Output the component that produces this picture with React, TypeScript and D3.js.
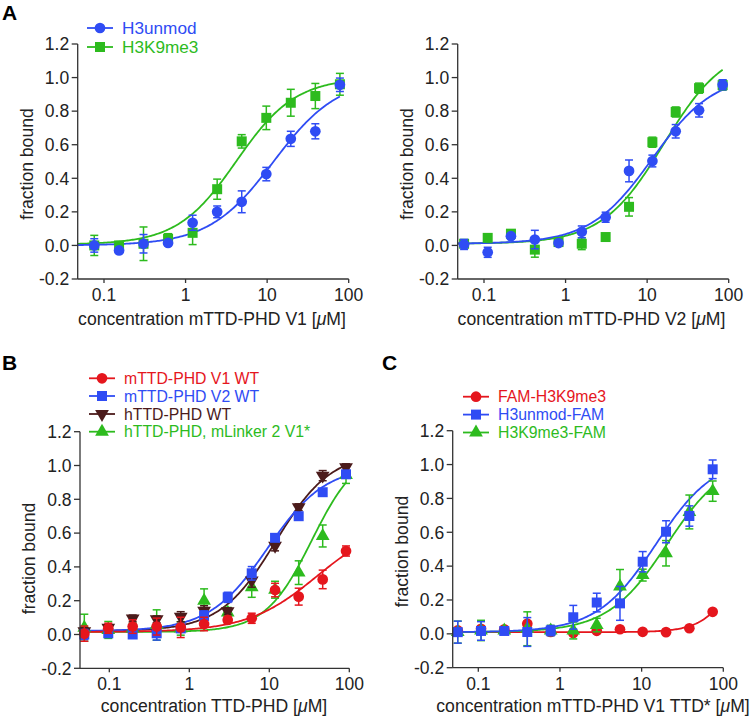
import React from "react";
import * as d3 from "d3";

// ---------- shared axis data ----------
const yTickValues = [-0.2, 0, 0.2, 0.4, 0.6, 0.8, 1.0, 1.2];
const yTickLabels = ["-0.2", "0.0", "0.2", "0.4", "0.6", "0.8", "1.0", "1.2"];
const xTickValues = [0.1, 1, 10, 100];
const xTickLabels = ["0.1", "1", "10", "100"];

// ---------- Panel A left: mTTD-PHD V1 ----------
const a1X = [0.076, 0.153, 0.305, 0.61, 1.22, 2.44, 4.88, 9.77, 19.5, 39, 78];
const a1UnmodY = [0.0, -0.03, 0.01, 0.015, 0.135, 0.2, 0.26, 0.425, 0.635, 0.68, 0.957];
const a1UnmodErr = [0.04, 0.01, 0.055, 0.015, 0.045, 0.035, 0.065, 0.04, 0.045, 0.045, 0.04];
const a1Me3Y = [0.0, 0.0, 0.01, 0.04, 0.075, 0.335, 0.62, 0.76, 0.85, 0.89, 0.96];
const a1Me3Err = [0.06, 0.015, 0.1, 0.03, 0.07, 0.06, 0.04, 0.07, 0.08, 0.075, 0.065];
// fit parameters: bottom, top, Kd, Hill
const a1UnmodFit = [0, 1, 12, 1.1];
const a1Me3Fit = [0.005, 1, 4.2, 1.2];

// ---------- Panel A right: mTTD-PHD V2 ----------
const a2X = [0.057, 0.111, 0.214, 0.42, 0.82, 1.58, 3.1, 6.0, 11.6, 22.4, 43.3, 84.3];
const a2UnmodY = [0.006, -0.041, 0.055, 0.035, 0.014, 0.081, 0.168, 0.444, 0.503, 0.68, 0.805, 0.957];
const a2UnmodErr = [0.03, 0.03, 0.015, 0.055, 0.01, 0.035, 0.03, 0.065, 0.035, 0.04, 0.04, 0.03];
const a2Me3Y = [0.01, 0.045, 0.07, -0.025, 0.02, 0.01, 0.05, 0.23, 0.615, 0.795, 0.937, 0.955];
const a2Me3Err = [0.02, 0.015, 0.015, 0.045, 0.015, 0.035, 0.015, 0.055, 0.03, 0.03, 0.03, 0.03];
const a2UnmodFit = [0.01, 1.02, 11.5, 1.15];
const a2Me3Fit = [0.01, 1.2, 16, 1.15];

// ---------- Panel B ----------
const bX = [0.0487, 0.0971, 0.196, 0.391, 0.781, 1.53, 3.02, 6.03, 11.8, 23.3, 46.5, 91];
const bV1Y = [0.005, 0.037, 0.047, 0.047, 0.042, 0.062, 0.086, 0.096, 0.263, 0.224, 0.326, 0.494];
const bV1Err = [0.045, 0.03, 0.04, 0.05, 0.06, 0.04, 0.02, 0.03, 0.04, 0.05, 0.055, 0.03];
const bV2Y = [0.0, 0.007, 0.0, 0.007, 0.036, 0.11, 0.22, 0.362, 0.572, 0.7, 0.842, 0.948];
const bV2Err = [0.03, 0.01, 0.015, 0.04, 0.02, 0.03, 0.03, 0.04, 0.02, 0.02, 0.02, 0.02];
const bHumY = [0.02, 0.04, 0.095, 0.09, 0.105, 0.14, 0.138, 0.32, 0.525, 0.753, 0.94, 0.99];
const bHumErr = [0.02, 0.02, 0.02, 0.02, 0.03, 0.03, 0.02, 0.04, 0.03, 0.02, 0.03, 0.02];
const bLinkY = [0.04, 0.027, 0.036, 0.056, 0.036, 0.2, 0.13, 0.28, 0.265, 0.366, 0.583, 0.944];
const bLinkErr = [0.08, 0.05, 0.03, 0.09, 0.04, 0.07, 0.03, 0.06, 0.05, 0.07, 0.065, 0.05];
const bV1Fit = [0.015, 0.68, 40, 1.0];
const bV2Fit = [0.02, 1.0, 9.5, 1.2];
const bHumFit = [0.02, 1.08, 12, 1.25];
const bLinkFit = [0.015, 1.1, 34, 1.5];

// ---------- Panel C ----------
const cX = [0.056, 0.108, 0.208, 0.398, 0.77, 1.455, 2.82, 5.43, 10.3, 19.9, 38.4, 74.1];
const cFamMe3Y = [0.02, 0.03, 0.027, 0.06, 0.011, 0.005, 0.018, 0.027, 0.012, 0.01, 0.033, 0.13];
const cFamMe3Err = [0.01, 0.01, 0.01, 0.015, 0.01, 0.01, 0.01, 0.01, 0.005, 0.005, 0.005, 0.005];
const cUnmodY = [0.01, 0.017, 0.017, 0.011, 0.019, 0.098, 0.185, 0.18, 0.426, 0.603, 0.696, 0.972];
const cUnmodErr = [0.065, 0.055, 0.015, 0.085, 0.03, 0.07, 0.055, 0.1, 0.06, 0.065, 0.06, 0.055];
const cMe3FamY = [0.01, 0.02, 0.02, 0.03, 0.02, 0.02, 0.052, 0.28, 0.347, 0.476, 0.72, 0.843];
const cMe3FamErr = [0.065, 0.06, 0.015, 0.1, 0.03, 0.05, 0.04, 0.1, 0.035, 0.075, 0.1, 0.06];
const cFamMe3Fit = [0.01, 1, 200, 2];
const cUnmodFit = [0.01, 1.05, 15, 1.2];
const cMe3FamFit = [0.01, 1.05, 20.5, 1.2];

const BLUE = "#2f4cf4";
const GREEN = "#2dbb1e";
const RED = "#e5161d";
const BROWN = "#4b1b1b";
const AXIS = "#333333";
const FONT = "'Liberation Sans', Arial, Helvetica, sans-serif";

type Series = {
  name: string;
  color: string;
  shape: string;
  x: number[];
  y: number[];
  err: number[];
  fit: number[];
  legendOrder: number;
};

type PanelCfg = {
  x0: number;
  x01: number;
  x100: number;
  yTop: number;
  yBot: number;
  xTitle: string;
  xTitleX: number;
  xTitleY: number;
  tickLabelY: number;
  yTitleX: number;
  yTitleY: number;
  series: Series[];
  legend?: { x: number; ys: number[]; fontSize: number };
};

function hill(p: number[], x: number) {
  const [b, t, k, n] = p;
  const xn = Math.pow(x, n);
  return b + ((t - b) * xn) / (Math.pow(k, n) + xn);
}

function symbolPath(shape: string) {
  if (shape === "circle") return d3.symbol().type(d3.symbolCircle).size(90)()!;
  if (shape === "square") return d3.symbol().type(d3.symbolSquare).size(100)()!;
  return d3.symbol().type(d3.symbolTriangle).size(82)()!;
}

function Marker({ shape, color, cx, cy }: { shape: string; color: string; cx: number; cy: number }) {
  const rot = shape === "triDown" ? 180 : 0;
  return (
    <path
      d={symbolPath(shape)}
      fill={color}
      transform={`translate(${cx},${cy}) rotate(${rot})`}
    />
  );
}

function Panel({ cfg }: { cfg: PanelCfg }) {
  const xs = d3.scaleLog().domain([0.1, 100]).range([cfg.x01, cfg.x100]);
  const ys = d3.scaleLinear().domain([-0.2, 1.2]).range([cfg.yBot, cfg.yTop]);
  const xMin = xs.invert(cfg.x0);

  const line = d3
    .line<[number, number]>()
    .x((d) => xs(d[0]))
    .y((d) => ys(d[1]));

  const legendSeries = cfg.series.slice().sort((a, b) => a.legendOrder - b.legendOrder);

  return (
    <g fontFamily={FONT}>
      {/* fitted curves */}
      {cfg.series.map((s) => {
        const xMax = d3.max(s.x)!;
        const pts: [number, number][] = d3.range(0, 201).map((i) => {
          const lx = Math.log10(xMin) + ((Math.log10(xMax) - Math.log10(xMin)) * i) / 200;
          const xv = Math.pow(10, lx);
          return [xv, hill(s.fit, xv)];
        });
        return (
          <path key={"c" + s.name} d={line(pts)!} fill="none" stroke={s.color} strokeWidth={1.8} />
        );
      })}
      {/* error bars + markers */}
      {cfg.series.map((s) => (
        <g key={"m" + s.name}>
          {s.x.map((xv, i) => {
            const cx = xs(xv);
            const y1 = ys(s.y[i] + s.err[i]);
            const y2 = ys(s.y[i] - s.err[i]);
            return (
              <g key={i} stroke={s.color} strokeWidth={1.5}>
                <line x1={cx} x2={cx} y1={y1} y2={y2} />
                <line x1={cx - 4} x2={cx + 4} y1={y1} y2={y1} />
                <line x1={cx - 4} x2={cx + 4} y1={y2} y2={y2} />
              </g>
            );
          })}
          {s.x.map((xv, i) => (
            <Marker key={"p" + i} shape={s.shape} color={s.color} cx={xs(xv)} cy={ys(s.y[i])} />
          ))}
        </g>
      ))}
      {/* axes */}
      <line x1={cfg.x0} x2={cfg.x0} y1={cfg.yTop} y2={cfg.yBot} stroke={AXIS} strokeWidth={1.3} />
      <line x1={cfg.x0} x2={cfg.x100} y1={cfg.yBot} y2={cfg.yBot} stroke={AXIS} strokeWidth={1.3} />
      {yTickValues.map((v, i) => (
        <g key={"yt" + i}>
          <line x1={cfg.x0 - 6} x2={cfg.x0} y1={ys(v)} y2={ys(v)} stroke={AXIS} strokeWidth={1.3} />
          <text x={cfg.x0 - 8.5} y={ys(v)} dy="0.36em" textAnchor="end" fontSize={17.5} fill="#222">
            {yTickLabels[i]}
          </text>
        </g>
      ))}
      {xTickValues.map((v, i) => (
        <g key={"xt" + i}>
          <line x1={xs(v)} x2={xs(v)} y1={cfg.yBot} y2={cfg.yBot + 4} stroke={AXIS} strokeWidth={1.3} />
          <text x={xs(v)} y={cfg.tickLabelY} textAnchor="middle" fontSize={17.5} fill="#222">
            {xTickLabels[i]}
          </text>
        </g>
      ))}
      <text x={cfg.xTitleX} y={cfg.xTitleY} textAnchor="middle" fontSize={17.6} fill="#222">
        {cfg.xTitle}{" "}[<tspan fontStyle="italic">μ</tspan>M]
      </text>
      <text
        transform={`translate(${cfg.yTitleX},${cfg.yTitleY}) rotate(-90)`}
        textAnchor="middle"
        fontSize={17.6}
        fill="#222"
      >
        fraction bound
      </text>
      {/* legend */}
      {cfg.legend &&
        legendSeries.map((s, i) => {
          const ly = cfg.legend!.ys[i];
          const lx = cfg.legend!.x;
          const fs = cfg.legend!.fontSize;
          return (
            <g key={"lg" + s.name}>
              <line x1={lx} x2={lx + 26} y1={ly} y2={ly} stroke={s.color} strokeWidth={1.8} />
              <Marker shape={s.shape} color={s.color} cx={lx + 13} cy={ly} />
              <text x={lx + 35} y={ly + fs * 0.355} fontSize={fs} fill={s.color}>
                {s.name}
              </text>
            </g>
          );
        })}
    </g>
  );
}

function mk(
  name: string,
  color: string,
  shape: string,
  x: number[],
  y: number[],
  err: number[],
  fit: number[],
  legendOrder: number
): Series {
  return { name, color, shape, x, y, err, fit, legendOrder };
}

export default function App() {
  const panels: PanelCfg[] = [
    {
      x0: 77.7, x01: 104, x100: 348.7, yTop: 44, yBot: 279,
      xTitle: "concentration mTTD-PHD V1", xTitleX: 212, xTitleY: 325, tickLabelY: 301,
      yTitleX: 33, yTitleY: 164,
      series: [
        mk("H3K9me3", GREEN, "square", a1X, a1Me3Y, a1Me3Err, a1Me3Fit, 1),
        mk("H3unmod", BLUE, "circle", a1X, a1UnmodY, a1UnmodErr, a1UnmodFit, 0),
      ],
      legend: { x: 87, ys: [28, 47], fontSize: 17.2 },
    },
    {
      x0: 457.7, x01: 484, x100: 728.7, yTop: 44, yBot: 279,
      xTitle: "concentration mTTD-PHD V2", xTitleX: 591.5, xTitleY: 325, tickLabelY: 301,
      yTitleX: 413, yTitleY: 164,
      series: [
        mk("H3K9me3", GREEN, "square", a2X, a2Me3Y, a2Me3Err, a2Me3Fit, 1),
        mk("H3unmod", BLUE, "circle", a2X, a2UnmodY, a2UnmodErr, a2UnmodFit, 0),
      ],
    },
    {
      x0: 80, x01: 109.3, x100: 349.3, yTop: 431.7, yBot: 668.3,
      xTitle: "concentration TTD-PHD", xTitleX: 214, xTitleY: 711.7, tickLabelY: 690,
      yTitleX: 35, yTitleY: 558.5,
      series: [
        mk("hTTD-PHD, mLinker 2 V1*", GREEN, "triUp", bX, bLinkY, bLinkErr, bLinkFit, 3),
        mk("hTTD-PHD WT", BROWN, "triDown", bX, bHumY, bHumErr, bHumFit, 2),
        mk("mTTD-PHD V2 WT", BLUE, "square", bX, bV2Y, bV2Err, bV2Fit, 1),
        mk("mTTD-PHD V1 WT", RED, "circle", bX, bV1Y, bV1Err, bV1Fit, 0),
      ],
      legend: { x: 89, ys: [378.3, 396, 414, 431.7], fontSize: 15.8 },
    },
    {
      x0: 452.7, x01: 478.3, x100: 723.3, yTop: 430.7, yBot: 667.7,
      xTitle: "concentration mTTD-PHD V1 TTD*", xTitleX: 593, xTitleY: 711.7, tickLabelY: 690,
      yTitleX: 408, yTitleY: 551.5,
      series: [
        mk("FAM-H3K9me3", RED, "circle", cX, cFamMe3Y, cFamMe3Err, cFamMe3Fit, 0),
        mk("H3K9me3-FAM", GREEN, "triUp", cX, cMe3FamY, cMe3FamErr, cMe3FamFit, 2),
        mk("H3unmod-FAM", BLUE, "square", cX, cUnmodY, cUnmodErr, cUnmodFit, 1),
      ],
      legend: { x: 463, ys: [396.7, 414.6, 432.5], fontSize: 15.8 },
    },
  ];

  return (
    <svg width={756} height={718} style={{ position: "absolute", left: 0, top: 0, background: "#fff" }}>
      <rect width={756} height={718} fill="#fff" />
      {panels.map((p, i) => (
        <Panel key={i} cfg={p} />
      ))}
      <g fontFamily={FONT} fontWeight="bold" fontSize={21} fill="#000">
        <text x={2} y={19.5}>A</text>
        <text x={2} y={370}>B</text>
        <text x={382} y={370}>C</text>
      </g>
    </svg>
  );
}
